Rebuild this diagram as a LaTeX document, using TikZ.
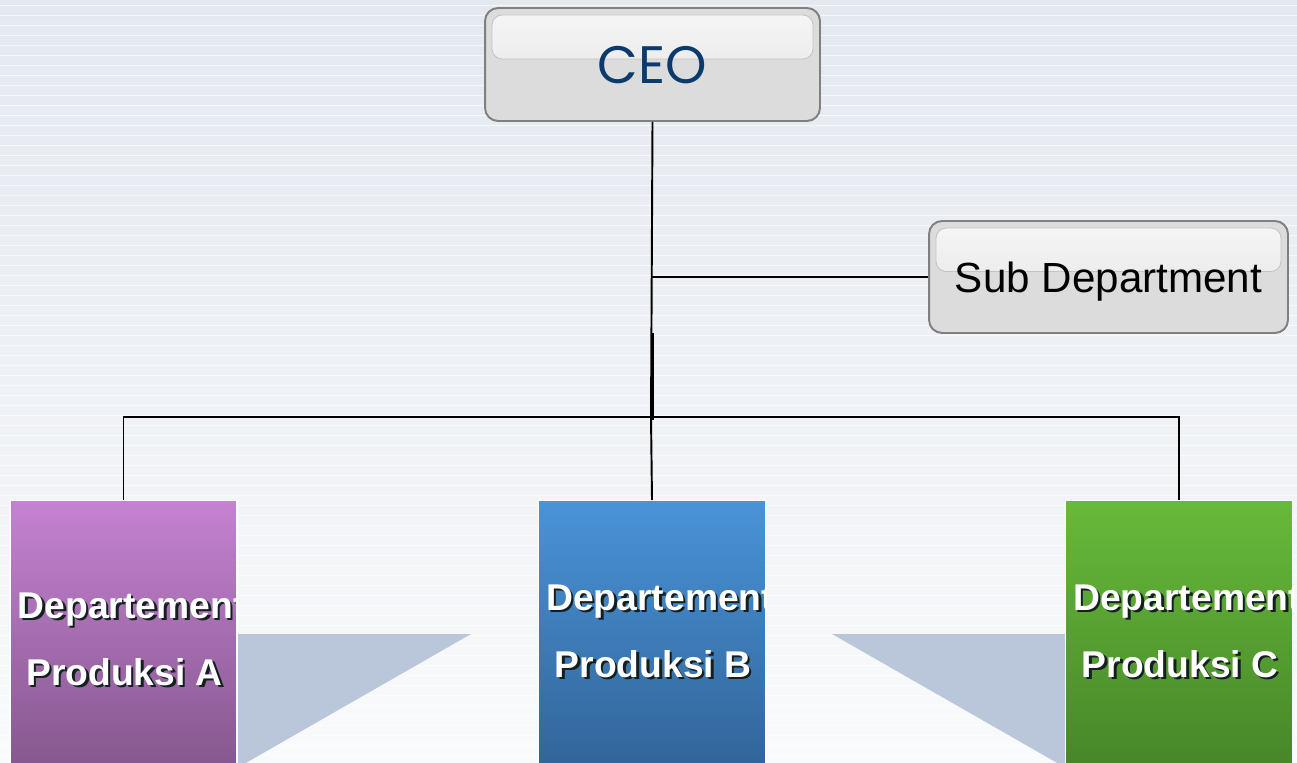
\documentclass[tikz,border=0pt]{standalone}
\usepackage{fontspec}
\setmainfont{Liberation Sans}
\newfontfamily\ceofont{Poppins}
\usetikzlibrary{positioning,calc}

\definecolor{bgtop}{HTML}{E4E9F0}
\definecolor{bgbot}{HTML}{F9FAFB}
\definecolor{boxline}{HTML}{808080}
\definecolor{boxfill}{HTML}{DCDCDC}
\definecolor{glosstop}{HTML}{F6F6F6}
\definecolor{glossbot}{HTML}{E2E2E2}
\definecolor{glossline}{HTML}{C4C4C4}
\definecolor{ceoblue}{HTML}{0B3A6C}
\definecolor{wedgecol}{HTML}{BAC6D9}
\definecolor{shadowcol}{HTML}{142020}
\definecolor{deptAtop}{HTML}{C582D1}
\definecolor{deptAbot}{HTML}{85578D}
\definecolor{deptBtop}{HTML}{4A93D8}
\definecolor{deptBbot}{HTML}{316498}
\definecolor{deptCtop}{HTML}{67BA39}
\definecolor{deptCbot}{HTML}{468529}

\begin{document}
\begin{tikzpicture}[x=0.02cm,y=-0.02cm,
      box/.style={draw=boxline, line width=1.1pt, rounded corners=0.26cm, fill=boxfill,
        path picture={\draw[gloss] ($(path picture bounding box.north west)+(7,7)$)
          rectangle ($(path picture bounding box.east)+(-7,-5.5)$);}},
      gloss/.style={draw=glossline, line width=0.5pt, rounded corners=0.2cm,
        top color=glosstop, bottom color=glossbot},
      dept/.style={draw=white, line width=0.6pt, minimum width=4.54cm, minimum height=5.4cm,
        anchor=north, inner sep=0},
      deptlabel/.style={font=\bfseries\fontsize{21.2}{25}\selectfont, text=white, inner sep=0},
      shadowlabel/.style={deptlabel, text=shadowcol},
      link/.style={line width=1.1pt},
      wedge/.style={fill=wedgecol},
      stripe/.style={white, opacity=0.6, line width=0.5pt}
      ]
      \useasboundingbox (0,0) rectangle (1297,763);
      \clip (0,0) rectangle (1297,763);
      % background
      \shade[top color=bgtop, bottom color=bgbot] (0,0) rectangle (1297,763);
      \foreach \y in {5,15,...,755}
        \draw[stripe] (0,\y) -- (1297,\y);

      % top boxes
      \node[box, minimum width=6.7cm, minimum height=2.26cm, text depth=0pt,
        font=\ceofont\fontsize{30}{34}\selectfont, text=ceoblue] (ceo) at (652.5,64.5) {CEO};
      \node[box, minimum width=7.18cm, minimum height=2.24cm, text depth=0pt,
        font=\fontsize{24}{28}\selectfont] (sub) at (1108.5,277) {Sub Department};

      % grey wedges behind the departments
      \fill[wedge] (237,634) -- (471,634) -- (237,768) -- cycle;
      \fill[wedge] (1066,634) -- (832,634) -- (1066,768) -- cycle;

      % departments
      \foreach \name/\cx/\dy in {A/123.5/8, B/652/0, C/1179/0}{
        \node[dept, top color=dept\name top, bottom color=dept\name bot] (dept\name) at (\cx,500) {};
        \begin{scope}
          \clip (dept\name.north west) rectangle (dept\name.south east);
          \node[shadowlabel, anchor=base west] (shA\name) at ($(dept\name.north west)+(10.5,112.5+\dy)$) {Departement};
          \node[deptlabel, anchor=base west] (lbA\name) at ($(dept\name.north west)+(8,110+\dy)$) {Departement};
          \node[shadowlabel, anchor=base] (shB\name) at ($(dept\name.north)+(3.5,179.5+\dy)$) {Produksi \name};
          \node[deptlabel, anchor=base] (lbB\name) at ($(dept\name.north)+(1,177+\dy)$) {Produksi \name};
        \end{scope}
      }

      % connectors
      \coordinate (tee) at (651,277);
      \coordinate (bus) at (651,417);
      \coordinate (joint) at (653,333);
      \coordinate (jointend) at (653,420);
      \draw[link] (ceo.south) -- (bus);
      \draw[link] (tee) -- (sub.west);
      \draw[link] (joint) -- (jointend);
      \draw[link] (deptA.north) |- (bus) -| (deptC.north);
      \draw[link] (bus) -- (deptB.north);
    \end{tikzpicture}
\end{document}
